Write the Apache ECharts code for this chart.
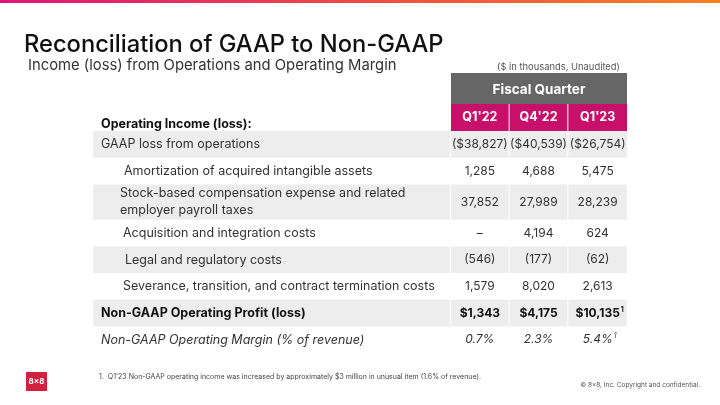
<!DOCTYPE html>
<html><head><meta charset="utf-8">
<script src="https://cdn.jsdelivr.net/npm/echarts@6/dist/echarts.min.js"></script>
<style>html,body{margin:0;padding:0;background:#fff}#c{width:720px;height:405px}</style>
</head><body><div id="c"></div>
<script>
// ---- data ----
const title = "Reconciliation of GAAP to Non-GAAP";
const subtitle = "Income (loss) from Operations and Operating Margin";
const unitNote = "($ in thousands, Unaudited)";
const groupHeader = "Fiscal Quarter";
const firstColHeader = "Operating Income (loss):";
const quarters = ["Q1'22", "Q4'22", "Q1'23"];
const rowLabels = [
  "GAAP loss from operations",
  "Amortization of acquired intangible assets",
  "Stock-based compensation expense and related\nemployer payroll taxes",
  "Acquisition and integration costs",
  "Legal and regulatory costs",
  "Severance, transition, and contract termination costs",
  "Non-GAAP Operating Profit (loss)",
  "Non-GAAP Operating Margin (% of revenue)"
];
const rowKinds = ["dollar", "num", "num", "num", "num", "num", "dollarBold", "pct"];
const q1_22 = [-38827, 1285, 37852, null, -546, 1579, 1343, 0.7];
const q4_22 = [-40539, 4688, 27989, 4194, -177, 8020, 4175, 2.3];
const q1_23 = [-26754, 5475, 28239, 624, -62, 2613, 10135, 5.4];
const footnoted = [[6, 2], [7, 2]]; // [row, quarter]
const footnote = "1.  Q1'23 Non-GAAP operating income was increased by approximately $3 million in unusual item (1.6% of revenue).";
const copyright = "\u00a9 8x8, Inc. Copyright and confidential.";
const logoText = "8x8";

// ---- layout / style ----
const FONT = "Inter, 'Noto Sans', sans-serif";
const COL_W = [358, 58.67, 58.67, 58.66];
const HEAD_H = [31, 27];
const ROW_H = [26.7, 26.7, 35.3, 26.7, 26.7, 26.7, 26.7, 26.7];
const INDENT = [8, 31, 27, 30, 32, 30, 8, 8];
const TABLE_W = COL_W.reduce((a, b) => a + b, 0);
const ALL_H = HEAD_H.concat(ROW_H);
const TABLE_H = ALL_H.reduce((a, b) => a + b, 0);
const PINK = "#c8106a", GREY_HEAD = "#666666", STRIPE = "#ededed", TXT = "#333333";
const LABEL_FS = 12.5;

const seriesVals = [q1_22, q4_22, q1_23];
function fmt(v, kind) {
  if (v === null || v === undefined) return "\u2013";
  if (kind === "pct") return v.toFixed(1) + "%";
  const s = Math.abs(v).toLocaleString("en-US");
  const pre = (kind === "dollar" || kind === "dollarBold") ? "$" : "";
  return v < 0 ? "(" + pre + s + ")" : pre + s;
}
function sumTo(arr, n) { let s = 0; for (let i = 0; i < n; i++) s += arr[i]; return s; }

const cells = [];
cells.push([1, 0]);                     // merged group header
for (let c = 0; c < 4; c++) cells.push([c, 1]);
for (let r = 0; r < rowLabels.length; r++) for (let c = 0; c < 4; c++) cells.push([c, r + 2]);

function renderItem(params, api) {
  const c = api.value(0), r = api.value(1);
  const x0 = sumTo(COL_W, c);
  const x1 = (r === 0) ? TABLE_W : x0 + COL_W[c];
  const y0 = sumTo(ALL_H, r), y1 = y0 + ALL_H[r];
  const p0 = api.coord([x0, y0]), p1 = api.coord([x1, y1]);
  const gap = (c < 3 && r !== 0) ? 1 : 0;
  const w = p1[0] - p0[0] - gap, h = p1[1] - p0[1];
  const cx = (p0[0] + p1[0] - gap) / 2, cy = (p0[1] + p1[1]) / 2;
  const children = [];
  if (r === 0) {
    children.push({type: "rect", shape: {x: p0[0], y: p0[1], width: w, height: h}, style: {fill: GREY_HEAD}});
    children.push({type: "text", style: {text: groupHeader, x: cx, y: cy + 1, align: "center", verticalAlign: "middle",
      fontFamily: FONT, fontSize: 13.5, fontWeight: "bold", fill: "#fff"}});
  } else if (r === 1) {
    if (c === 0) {
      children.push({type: "text", style: {text: firstColHeader, x: p0[0] + 8, y: p1[1] - 7, align: "left", verticalAlign: "middle",
        fontFamily: FONT, fontSize: LABEL_FS, fontWeight: "bold", fill: "#111"}});
    } else {
      children.push({type: "rect", shape: {x: p0[0], y: p0[1], width: w, height: h}, style: {fill: PINK}});
      children.push({type: "text", style: {text: quarters[c - 1], x: cx, y: cy, align: "center", verticalAlign: "middle",
        fontFamily: FONT, fontSize: 12.5, fontWeight: "bold", fill: "#fff"}});
    }
  } else {
    const ri = r - 2, kind = rowKinds[ri];
    if (ri % 2 === 0) children.push({type: "rect", shape: {x: p0[0], y: p0[1], width: w, height: h}, style: {fill: STRIPE}});
    const bold = kind === "dollarBold";
    const italic = kind === "pct";
    if (c === 0) {
      children.push({type: "text", style: {text: rowLabels[ri], x: p0[0] + INDENT[ri], y: cy, align: "left", verticalAlign: "middle",
        fontFamily: FONT, fontSize: LABEL_FS, fontWeight: bold ? "bold" : "normal", fontStyle: italic ? "italic" : "normal",
        lineHeight: 17, fill: bold ? "#111" : TXT}});
    } else {
      const qi = c - 1;
      const mark = footnoted.some(f => f[0] === ri && f[1] === qi);
      const txt = fmt(seriesVals[qi][ri], kind);
      const base = {fontFamily: FONT, fontSize: 12, fontWeight: bold ? "bold" : "normal", fontStyle: italic ? "italic" : "normal",
        fill: bold ? "#111" : TXT, lineHeight: 14};
      children.push({type: "text", style: Object.assign({
        text: mark ? "{m|" + txt + "}{s|1}" : "{m|" + txt + "}",
        x: cx + (mark ? 2 : 0), y: cy, align: "center", verticalAlign: "middle",
        rich: {m: base, s: Object.assign({}, base, {fontSize: 7, lineHeight: 14, verticalAlign: "top", padding: [0, 0, 8, 1]})}
      }, base)});
    }
  }
  return {type: "group", children: children};
}

const chart = echarts.init(document.getElementById("c"), null, {renderer: "canvas"});
chart.setOption({
  animation: false,
  backgroundColor: "#fff",
  title: [
    {text: title, left: 24, top: 33, padding: 0, textStyle: {fontFamily: FONT, fontSize: 23.7, fontWeight: 500, color: "#111"}},
    {text: subtitle, left: 28, top: 58.5, padding: 0, textStyle: {fontFamily: FONT, fontSize: 14.8, fontWeight: "normal", color: "#333"}},
    {text: unitNote, right: 100, top: 62.5, padding: 0, textStyle: {fontFamily: FONT, fontSize: 9.4, fontWeight: "normal", color: "#555"}}
  ],
  grid: {left: 93, top: 73, width: TABLE_W, height: TABLE_H},
  xAxis: {type: "value", min: 0, max: TABLE_W, show: false},
  yAxis: {type: "value", min: 0, max: TABLE_H, inverse: true, show: false},
  series: [{type: "custom", renderItem: renderItem, data: cells, silent: true, clip: false}],
  graphic: [
    {type: "rect", left: 0, top: 0, shape: {width: 720, height: 3},
      style: {fill: new echarts.graphic.LinearGradient(0, 0, 1, 0, [
        {offset: 0, color: "#e0147a"}, {offset: 0.5, color: "#ee4a45"}, {offset: 1, color: "#f68020"}])}},
    {type: "text", left: 99, top: 373.5, style: {text: footnote, fontFamily: FONT, fontSize: 7, fill: "#444"}},
    {type: "text", right: 20, top: 382, style: {text: copyright, fontFamily: FONT, fontSize: 6.5, fill: "#555"}},
    {type: "group", left: 26, top: 372, children: [
      {type: "rect", shape: {x: 0, y: 0, width: 21, height: 19}, style: {fill: "#d2213f"}},
      {type: "text", style: {text: logoText, x: 10.5, y: 10, align: "center", verticalAlign: "middle",
        fontFamily: FONT, fontSize: 8, fontWeight: "bold", fill: "#fff"}}
    ]}
  ]
});
</script></body></html>
